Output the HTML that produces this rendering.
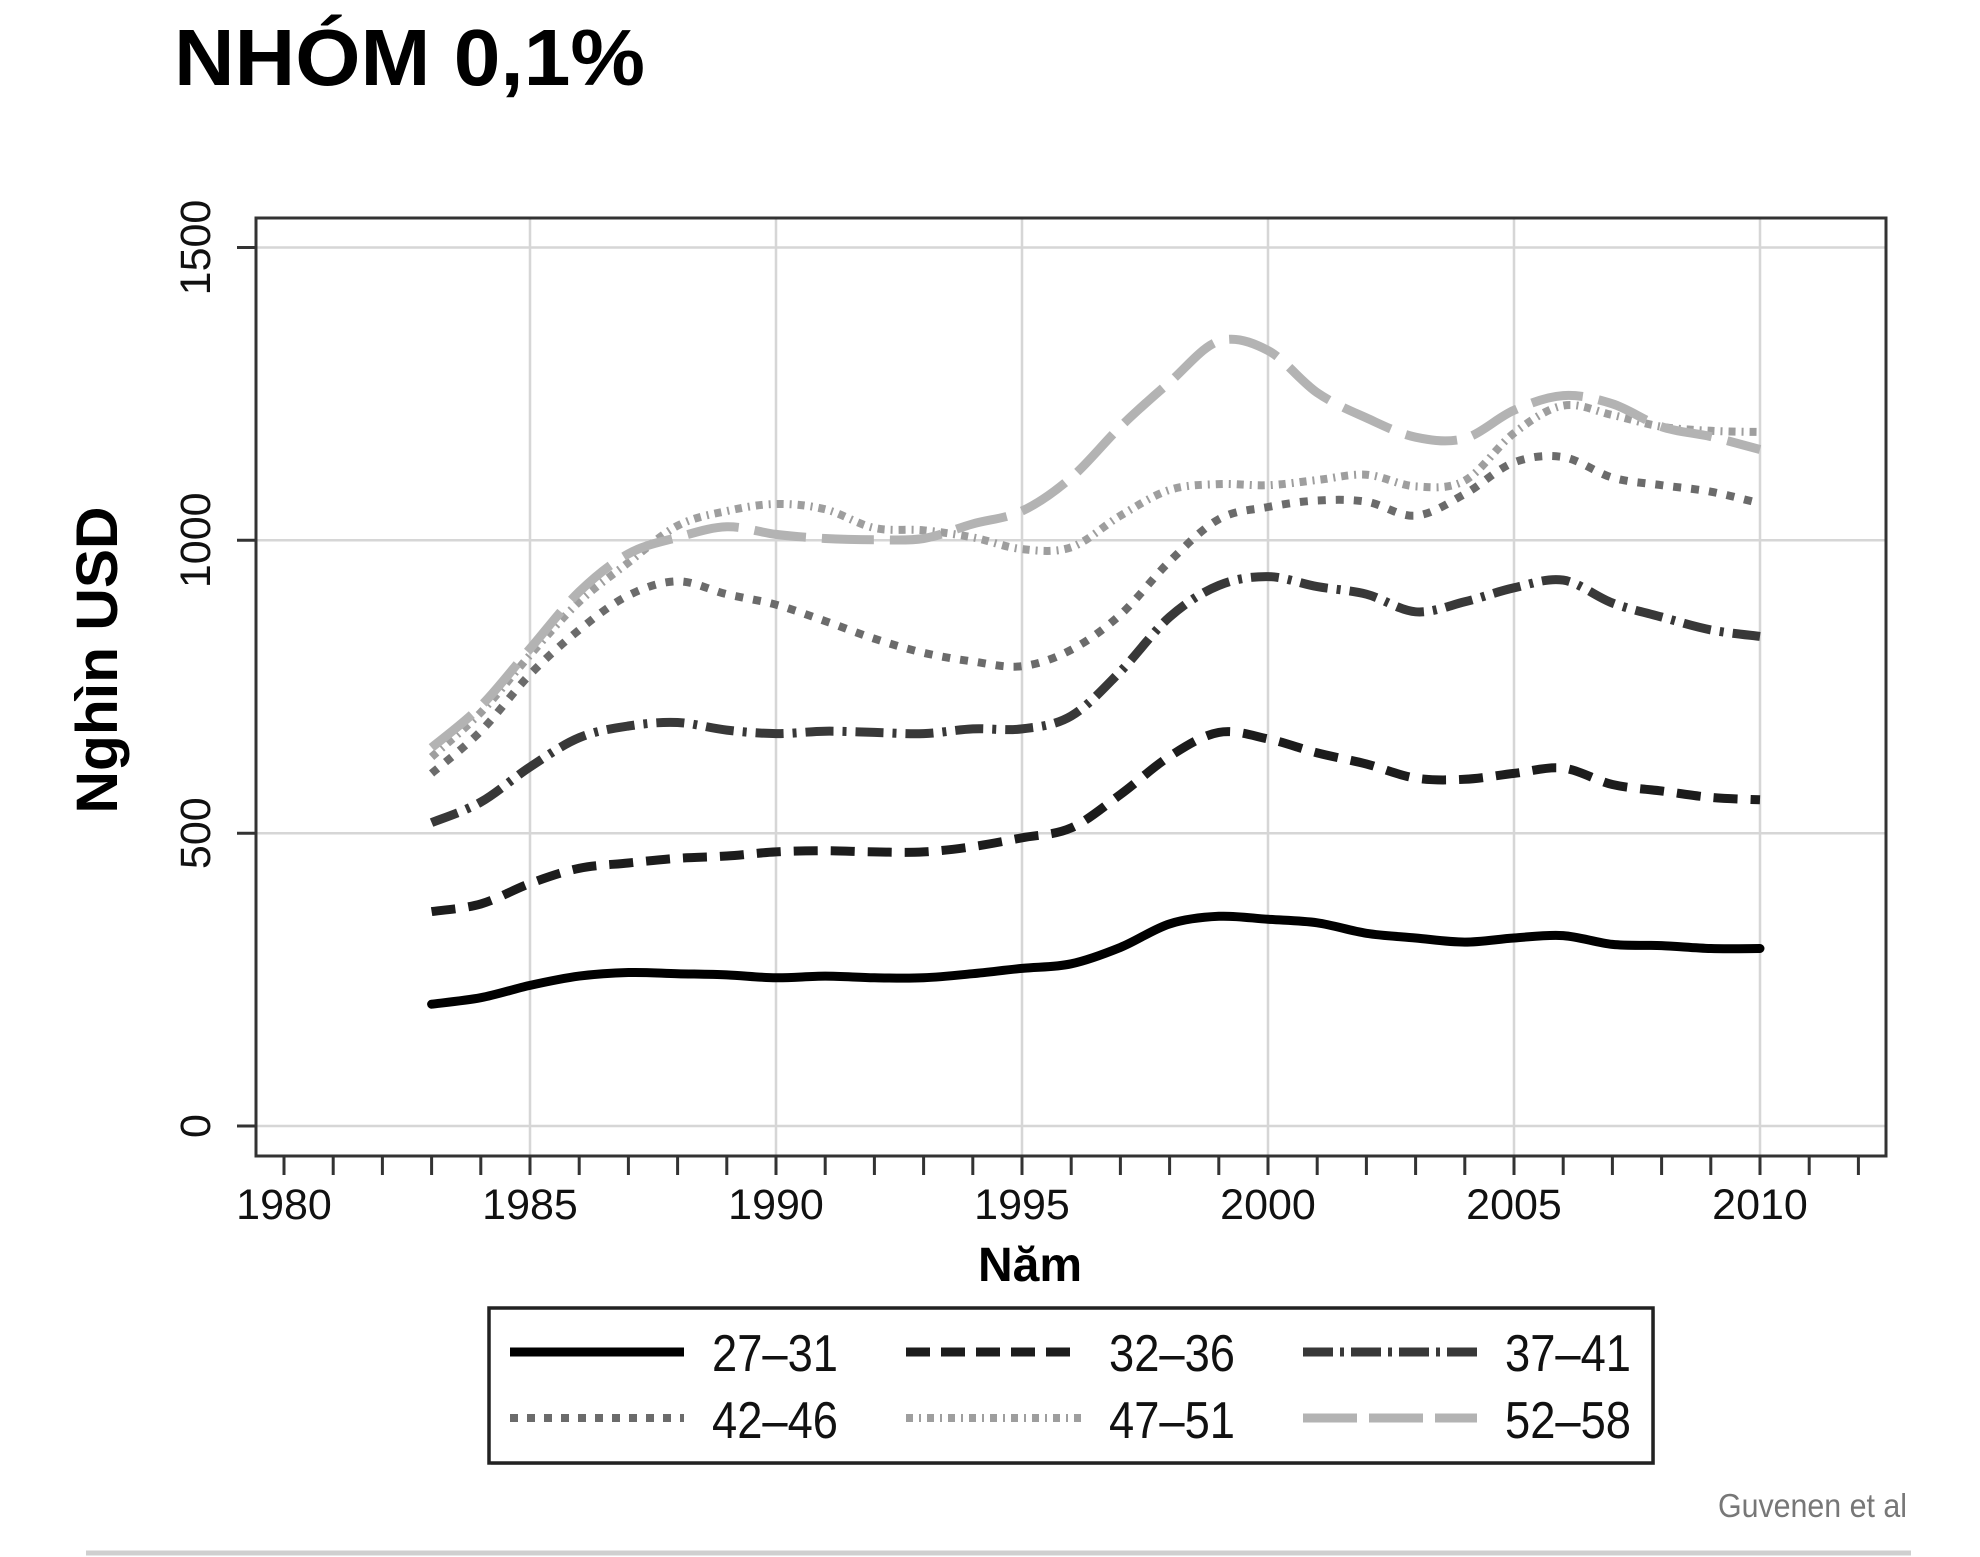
<!DOCTYPE html>
<html>
<head>
<meta charset="utf-8">
<style>
  html, body { margin:0; padding:0; background:#fff; }
  svg { display:block; }
  text { font-family: "Liberation Sans", "DejaVu Sans", sans-serif; }
</style>
</head>
<body>
<svg id="chart" width="1980" height="1557" viewBox="0 0 1980 1557" xmlns="http://www.w3.org/2000/svg">
  <rect x="0" y="0" width="1980" height="1557" fill="#fff"/>

  <!-- Title -->
  <text x="174" y="85" font-size="80" font-weight="bold" fill="#000" textLength="471" lengthAdjust="spacingAndGlyphs">NHÓM 0,1%</text>

  <!-- Gridlines -->
  <g stroke="#d6d6d6" stroke-width="2.5" fill="none">
    <line x1="256" y1="1126" x2="1886" y2="1126"/>
    <line x1="256" y1="833.2" x2="1886" y2="833.2"/>
    <line x1="256" y1="540.3" x2="1886" y2="540.3"/>
    <line x1="256" y1="247.5" x2="1886" y2="247.5"/>
    <line x1="530" y1="218" x2="530" y2="1156"/>
    <line x1="776" y1="218" x2="776" y2="1156"/>
    <line x1="1022" y1="218" x2="1022" y2="1156"/>
    <line x1="1268" y1="218" x2="1268" y2="1156"/>
    <line x1="1514" y1="218" x2="1514" y2="1156"/>
    <line x1="1760" y1="218" x2="1760" y2="1156"/>
  </g>

  <!-- Frame -->
  <rect x="256" y="218" width="1630" height="938" fill="none" stroke="#333" stroke-width="3"/>

  <!-- Y ticks -->
  <path d="M237 1126H256 M237 833.2H256 M237 540.3H256 M237 247.5H256" stroke="#333" stroke-width="3"/>
  <!-- X ticks -->
  <path stroke="#333" stroke-width="3" d="M284 1156V1175 M333.2 1156V1175 M382.4 1156V1175 M431.6 1156V1175 M480.8 1156V1175 M530 1156V1175 M579.2 1156V1175 M628.4 1156V1175 M677.6 1156V1175 M726.8 1156V1175 M776 1156V1175 M825.2 1156V1175 M874.4 1156V1175 M923.6 1156V1175 M972.8 1156V1175 M1022 1156V1175 M1071.2 1156V1175 M1120.4 1156V1175 M1169.6 1156V1175 M1218.8 1156V1175 M1268 1156V1175 M1317.2 1156V1175 M1366.4 1156V1175 M1415.6 1156V1175 M1464.8 1156V1175 M1514 1156V1175 M1563.2 1156V1175 M1612.4 1156V1175 M1661.6 1156V1175 M1710.8 1156V1175 M1760 1156V1175 M1809.2 1156V1175 M1858.4 1156V1175"/>

  <!-- Y tick labels -->
  <g font-size="43" fill="#111" text-anchor="middle">
    <text transform="translate(210,1126) rotate(-90)">0</text>
    <text transform="translate(210,833.2) rotate(-90)">500</text>
    <text transform="translate(210,540.3) rotate(-90)">1000</text>
    <text transform="translate(210,247.5) rotate(-90)">1500</text>
  </g>

  <!-- X tick labels -->
  <g font-size="43" fill="#111" text-anchor="middle">
    <text x="284" y="1219">1980</text>
    <text x="530" y="1219">1985</text>
    <text x="776" y="1219">1990</text>
    <text x="1022" y="1219">1995</text>
    <text x="1268" y="1219">2000</text>
    <text x="1514" y="1219">2005</text>
    <text x="1760" y="1219">2010</text>
  </g>

  <!-- Axis titles -->
  <text x="1030" y="1281" font-size="48" font-weight="bold" fill="#000" text-anchor="middle">Năm</text>
  <text transform="translate(117,660) rotate(-90)" font-size="58" font-weight="bold" fill="#000" text-anchor="middle" textLength="307" lengthAdjust="spacingAndGlyphs">Nghìn USD</text>

  <!-- Series -->
  <g id="series" fill="none" stroke-linejoin="round">
    <polyline stroke="#000" stroke-width="9" stroke-linecap="round"
      points="431.6,1004.2 480.8,997.7 530,985.4 579.2,976.1 628.4,972.5 677.6,973.7 726.8,974.9 776,977.8 825.2,976.1 874.4,977.8 923.6,977.8 972.8,973.7 1022,968.4 1071.2,963.8 1120.4,947.4 1169.6,923.9 1218.8,916.3 1268,919.3 1317.2,922.8 1366.4,933.3 1415.6,938 1464.8,942.1 1514,938 1563.2,935.6 1612.4,944.4 1661.6,945.6 1710.8,948.5 1760,948.5"/>
    <polyline stroke="#1c1c1c" stroke-width="9" stroke-dasharray="24 13"
      points="431.6,911.6 480.8,904 530,883.5 579.2,868.3 628.4,863 677.6,858.3 726.8,856 776,851.9 825.2,850.7 874.4,851.9 923.6,851.9 972.8,846.6 1022,837.8 1071.2,827.9 1120.4,794.5 1169.6,756.4 1218.8,732.4 1268,738.9 1317.2,752.9 1366.4,764 1415.6,778.1 1464.8,779.3 1514,773.4 1563.2,768.1 1612.4,784.5 1661.6,791 1710.8,797.4 1760,799.8"/>
    <polyline stroke="#383838" stroke-width="9" stroke-dasharray="28 9 4 9"
      points="431.6,822.6 480.8,802.1 530,767 579.2,737.7 628.4,726 677.6,722.5 726.8,730.1 776,733.6 825.2,731.2 874.4,732.4 923.6,733.6 972.8,728.9 1022,728.9 1071.2,716 1120.4,671.5 1169.6,617 1218.8,585.4 1268,576.6 1317.2,586.6 1366.4,594.2 1415.6,611.8 1464.8,601.8 1514,587.8 1563.2,580.1 1612.4,603 1661.6,617 1710.8,629.9 1760,636.4"/>
    <polyline stroke="#6b6b6b" stroke-width="8" stroke-dasharray="8 10"
      points="431.6,773.4 480.8,731.2 530,674.4 579.2,629.9 628.4,595.4 677.6,581.3 726.8,594.2 776,604.7 825.2,621.1 874.4,638.7 923.6,652.8 972.8,661.5 1022,666.2 1071.2,649.8 1120.4,614.7 1169.6,561.4 1218.8,519.2 1268,507 1317.2,500.5 1366.4,501.7 1415.6,515.7 1464.8,494 1514,462.4 1563.2,457.1 1612.4,477.6 1661.6,485.2 1710.8,491.7 1760,503.4"/>
    <polyline stroke="#9e9e9e" stroke-width="8" stroke-dasharray="7 6 2 6"
      points="431.6,757 480.8,712.5 530,655.1 579.2,601.8 628.4,562.6 677.6,525.7 726.8,511 776,504 825.2,509.3 874.4,528 923.6,530.3 972.8,537.4 1022,549.1 1071.2,547.3 1120.4,515.7 1169.6,489.9 1218.8,484.1 1268,485.2 1317.2,480 1366.4,474.7 1415.6,486.4 1464.8,480.6 1514,433.1 1563.2,405.6 1612.4,415 1661.6,426.7 1710.8,430.8 1760,432"/>
    <polyline stroke="#b3b3b3" stroke-width="9" stroke-dasharray="52 16"
      points="431.6,747.6 480.8,706.1 530,648.7 579.2,591.8 628.4,553.8 677.6,537.4 726.8,526.8 776,534.4 825.2,538.5 874.4,539.7 923.6,538.5 972.8,523.9 1022,511 1071.2,477.6 1120.4,426.7 1169.6,382.2 1218.8,341.2 1268,350.5 1317.2,392.7 1366.4,417.9 1415.6,437.2 1464.8,438.4 1514,410.3 1563.2,395.6 1612.4,403.8 1661.6,426.7 1710.8,436.6 1760,449.5"/>
  </g>

  <!-- Legend -->
  <rect x="491" y="1310" width="1164" height="155" fill="#888" opacity="0.35"/>
  <rect x="489" y="1308" width="1164" height="155" fill="#fff" stroke="#222" stroke-width="3.5"/>
  <g fill="none">
    <line x1="510" y1="1352" x2="684" y2="1352" stroke="#000" stroke-width="9"/>
    <line x1="906" y1="1352" x2="1081" y2="1352" stroke="#1c1c1c" stroke-width="9" stroke-dasharray="24 11"/>
    <line x1="1303" y1="1352" x2="1477" y2="1352" stroke="#383838" stroke-width="9" stroke-dasharray="30 7 4 7"/>
    <line x1="510" y1="1418" x2="684" y2="1418" stroke="#6b6b6b" stroke-width="8" stroke-dasharray="8 9"/>
    <line x1="906" y1="1418" x2="1081" y2="1418" stroke="#9e9e9e" stroke-width="8" stroke-dasharray="7 6 2 6"/>
    <line x1="1303" y1="1418" x2="1477" y2="1418" stroke="#b3b3b3" stroke-width="9" stroke-dasharray="54 12"/>
  </g>
  <g font-size="52" fill="#111">
    <text x="712" y="1371" textLength="126" lengthAdjust="spacingAndGlyphs">27–31</text>
    <text x="1109" y="1371" textLength="126" lengthAdjust="spacingAndGlyphs">32–36</text>
    <text x="1505" y="1371" textLength="126" lengthAdjust="spacingAndGlyphs">37–41</text>
    <text x="712" y="1438" textLength="126" lengthAdjust="spacingAndGlyphs">42–46</text>
    <text x="1109" y="1438" textLength="126" lengthAdjust="spacingAndGlyphs">47–51</text>
    <text x="1505" y="1438" textLength="126" lengthAdjust="spacingAndGlyphs">52–58</text>
  </g>

  <!-- Source -->
  <text x="1718" y="1517" font-size="33" fill="#777" textLength="189" lengthAdjust="spacingAndGlyphs">Guvenen et al</text>

  <!-- Bottom rule -->
  <line x1="86" y1="1553" x2="1911" y2="1553" stroke="#cfcfcf" stroke-width="5"/>
</svg>
<script>
(function(){
  try {
    var NS = "http://www.w3.org/2000/svg";
    var lines = document.querySelectorAll("#series polyline");
    for (var i = 0; i < lines.length; i++) {
      var pl = lines[i];
      var pts = pl.getAttribute("points").trim().split(/\s+/).map(function(s){
        var a = s.split(","); return [parseFloat(a[0]), parseFloat(a[1])];
      });
      var d = "M" + pts[0][0] + " " + pts[0][1];
      for (var k = 0; k < pts.length - 1; k++) {
        var p0 = pts[k > 0 ? k - 1 : k], p1 = pts[k], p2 = pts[k + 1], p3 = pts[k + 2 < pts.length ? k + 2 : k + 1];
        var c1x = p1[0] + (p2[0] - p0[0]) / 6, c1y = p1[1] + (p2[1] - p0[1]) / 6;
        var c2x = p2[0] - (p3[0] - p1[0]) / 6, c2y = p2[1] - (p3[1] - p1[1]) / 6;
        d += " C" + c1x.toFixed(1) + " " + c1y.toFixed(1) + " " + c2x.toFixed(1) + " " + c2y.toFixed(1) + " " + p2[0] + " " + p2[1];
      }
      var path = document.createElementNS(NS, "path");
      var attrs = ["stroke", "stroke-width", "stroke-dasharray", "stroke-linecap"];
      for (var j = 0; j < attrs.length; j++) {
        var v = pl.getAttribute(attrs[j]);
        if (v) path.setAttribute(attrs[j], v);
      }
      path.setAttribute("d", d);
      pl.parentNode.replaceChild(path, pl);
    }
  } catch (e) {}
})();
</script>
</body>
</html>
